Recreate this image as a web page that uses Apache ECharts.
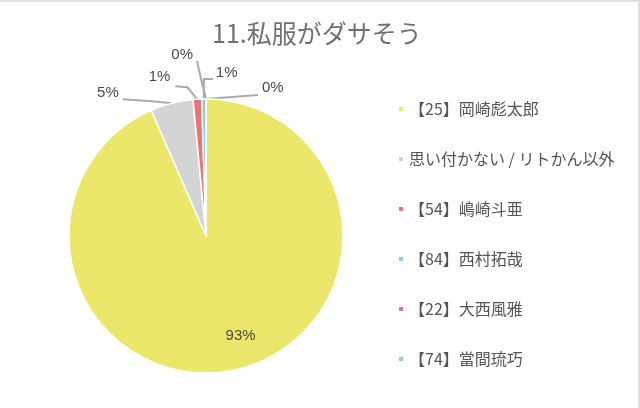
<!DOCTYPE html>
<html>
<head>
<meta charset="utf-8">
<script src="https://cdn.jsdelivr.net/npm/echarts@6/dist/echarts.min.js"></script>
<style>
  html, body { margin: 0; padding: 0; background: #fff; }
  #wrap { width: 640px; height: 408px; box-sizing: border-box; border-top: 2px solid #dedede; border-right: 2px solid #dedede; }
  #pie { width: 638px; height: 406px; }
</style>
</head>
<body>
<div id="wrap"><div id="pie"></div></div>
<script>
// 回答者の名前と票数
var names = ["【25】岡崎彪太郎", "思い付かない / リトかん以外", "【54】嶋崎斗亜", "【84】西村拓哉", "【22】大西風雅", "【74】當間琉巧"];
var votes = [186, 10, 2, 1, 0, 0];
var colors = ["#ebe76b", "#d4d4d4", "#e87676", "#8fc8ee", "#d56fd4", "#8ee38e"];

var font = "'Noto Sans CJK JP', 'Noto Sans', sans-serif";

// 外側ラベルの置き方（扇の外周点からのずらし量）
var labelPlace = [
  null,
  { line: [[-20, -2], [-49, -4]], text: [-53, -10], align: "right" },
  { line: [[-10, -12], [-22, -13]], text: [-27, -22], align: "right" },
  { line: [[0, -20], [9, -20]], text: [12, -26], align: "left" },
  { line: [[-5, -20], [-9, -38]], text: [-13, -44], align: "right" },
  { line: [[26, -2], [52, -4]], text: [56, -11], align: "left" }
];

var myChart = echarts.init(document.getElementById("pie"));
myChart.setOption({
  animation: false,
  title: {
    text: "11.私服がダサそう",
    left: 207,
    top: 14,
    textStyle: { fontFamily: font, fontSize: 25, fontWeight: "normal", color: "#707070" }
  },
  legend: {
    orient: "vertical",
    left: 392,
    top: 92,
    icon: "rect",
    itemWidth: 6,
    itemHeight: 6,
    itemGap: 30,
    textStyle: { fontFamily: font, fontSize: 16, color: "#555", lineHeight: 20 }
  },
  series: [
    {
      type: "pie",
      center: [206, 234],
      radius: 137,
      startAngle: 90,
      clockwise: true,
      percentPrecision: 0,
      avoidLabelOverlap: false,
      itemStyle: { borderColor: "#fff", borderWidth: 1.5 },
      label: {
        formatter: "{d}%",
        fontFamily: "'Liberation Sans', Arial, sans-serif",
        fontSize: 15,
        color: "#4a4a4a"
      },
      labelLine: { length: 8, length2: 30, lineStyle: { color: "#aaa", width: 2 } },
      labelLayout: function (p) {
        var s = labelPlace[p.dataIndex];
        if (!s || !p.labelLinePoints) return {};
        var a = p.labelLinePoints[0];
        return {
          x: a[0] + s.text[0],
          y: a[1] + s.text[1],
          align: s.align,
          verticalAlign: "middle",
          labelLinePoints: [a, [a[0] + s.line[0][0], a[1] + s.line[0][1]], [a[0] + s.line[1][0], a[1] + s.line[1][1]]]
        };
      },
      data: names.map(function (n, i) {
        var d = { name: n, value: votes[i], itemStyle: { color: colors[i] } };
        if (i === 0) {
          d.label = { position: "inside", offset: [20, 30] };
        }
        return d;
      })
    }
  ]
});
</script>
</body>
</html>
